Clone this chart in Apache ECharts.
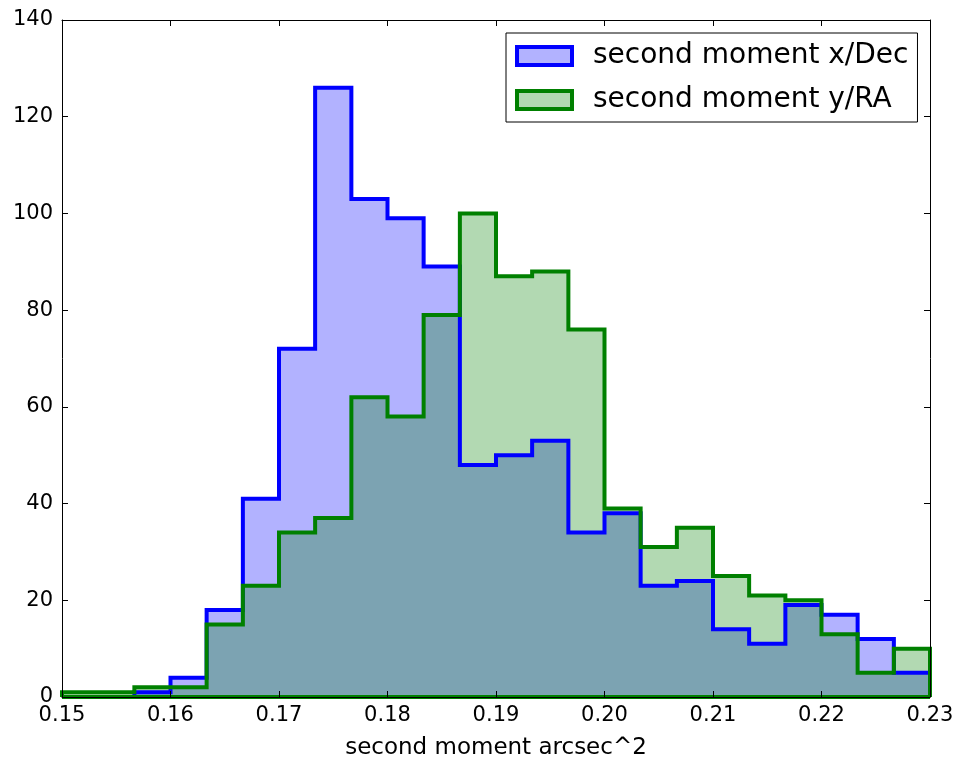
<!DOCTYPE html>
<html>
<head>
<meta charset="utf-8">
<title>second moment</title>
<script src="https://cdn.jsdelivr.net/npm/echarts@6/dist/echarts.min.js"></script>
<style>
	html, body { margin: 0; padding: 0; background: #fff; }
	#containerForm { width: 958px; height: 757px; }
</style>
</head>
<body>
<div id="containerForm"></div>
<script>
// bin edges (25) and counts per bin (24)
var binEdges = [0.15, 0.15333, 0.15667, 0.16, 0.16333, 0.16667, 0.17, 0.17333, 0.17667, 0.18,
	0.18333, 0.18667, 0.19, 0.19333, 0.19667, 0.20, 0.20333, 0.20667, 0.21, 0.21333,
	0.21667, 0.22, 0.22333, 0.22667, 0.23];
var decCounts = [0, 0, 1, 4, 18, 41, 72, 126, 103, 99, 89, 48, 50, 53, 34, 38, 23, 24, 14, 11, 19, 17, 12, 5];
var raCounts = [1, 1, 2, 2, 15, 23, 34, 37, 62, 58, 79, 100, 87, 88, 76, 39, 31, 35, 25, 21, 20, 13, 5, 10];
var seriesNames = ['second moment x/Dec', 'second moment y/RA'];
var xTicks = [0.15, 0.23, 0.01];
var yTicks = [0, 140, 20];

//把直方图变成阶梯线的点
function stepData(counts){
	var pts = [[binEdges[0], 0]];
	for (var i = 0; i < counts.length; i++) {
		pts.push([binEdges[i], counts[i]]);
	}
	pts.push([binEdges[binEdges.length - 1], counts[counts.length - 1]]);
	pts.push([binEdges[binEdges.length - 1], 0]);
	return pts;
}

var font = 'DejaVu Sans';
var myChart = echarts.init(document.getElementById('containerForm'));
var option = null;

function xAxisOf(pos, showLabel){
	return {
		type: 'value', position: pos, min: xTicks[0], max: xTicks[1], interval: xTicks[2],
		z: 5,
		name: showLabel ? 'second moment arcsec^2' : '',
		nameLocation: 'middle', nameGap: 40,
		nameTextStyle: { fontFamily: font, fontSize: 23, color: '#000' },
		axisLine: { show: true, onZero: false, lineStyle: { color: '#000', width: 1 } },
		axisTick: { show: true, inside: true, length: 6, lineStyle: { color: '#000' } },
		axisLabel: {
			show: showLabel, margin: 8, fontFamily: font, fontSize: 21, color: '#000',
			formatter: function(v){ return v.toFixed(2); }
		},
		splitLine: { show: false }
	};
}
function yAxisOf(pos, showLabel){
	return {
		type: 'value', position: pos, min: yTicks[0], max: yTicks[1], interval: yTicks[2],
		z: 5,
		axisLine: { show: true, onZero: false, lineStyle: { color: '#000', width: 1 } },
		axisTick: { show: true, inside: true, length: 6, lineStyle: { color: '#000' } },
		axisLabel: { show: showLabel, margin: 9, fontFamily: font, fontSize: 21, color: '#000' },
		splitLine: { show: false }
	};
}

option = {
	animation: false,
	backgroundColor: '#fff',
	grid: { left: 62, right: 28, top: 20, bottom: 60, outerBoundsMode: 'none', containLabel: false },
	legend: {
		orient: 'vertical',
		left: 506, top: 33,
		padding: [9, 9, 8, 9],
		backgroundColor: '#fff',
		borderColor: '#000', borderWidth: 1, borderRadius: 0,
		icon: 'rect',
		itemWidth: 55, itemHeight: 18, itemGap: 16,
		textStyle: { fontFamily: font, fontSize: 28, color: '#000', padding: [0, 0, 0, 16] },
		data: [
			{ name: seriesNames[0], itemStyle: { color: 'rgba(0,0,255,0.3)', borderColor: '#0000ff', borderWidth: 4 } },
			{ name: seriesNames[1], itemStyle: { color: 'rgba(0,128,0,0.3)', borderColor: '#008000', borderWidth: 4 } }
		]
	},
	xAxis: [xAxisOf('bottom', true), xAxisOf('top', false)],
	yAxis: [yAxisOf('left', true), yAxisOf('right', false)],
	series: [
		{
			name: seriesNames[0], type: 'line', step: 'end',
			xAxisIndex: 0, yAxisIndex: 0,
			symbol: 'none',
			data: stepData(decCounts),
			lineStyle: { color: '#0000ff', width: 4, join: 'miter' },
			itemStyle: { color: '#0000ff' },
			areaStyle: { color: 'rgba(0,0,255,0.3)', opacity: 1, origin: 'start' }
		},
		{
			name: seriesNames[1], type: 'line', step: 'end',
			xAxisIndex: 0, yAxisIndex: 0,
			symbol: 'none',
			data: stepData(raCounts),
			lineStyle: { color: '#008000', width: 4, join: 'miter' },
			itemStyle: { color: '#008000' },
			areaStyle: { color: 'rgba(0,128,0,0.3)', opacity: 1, origin: 'start' },
			markLine: {
				silent: true, symbol: 'none', label: { show: false },
				lineStyle: { color: '#008000', width: 4, type: 'solid' },
				data: [{ yAxis: 0 }]
			}
		}
	]
};
if (option && typeof option === "object") {
	myChart.setOption(option, true);
}
</script>
</body>
</html>
